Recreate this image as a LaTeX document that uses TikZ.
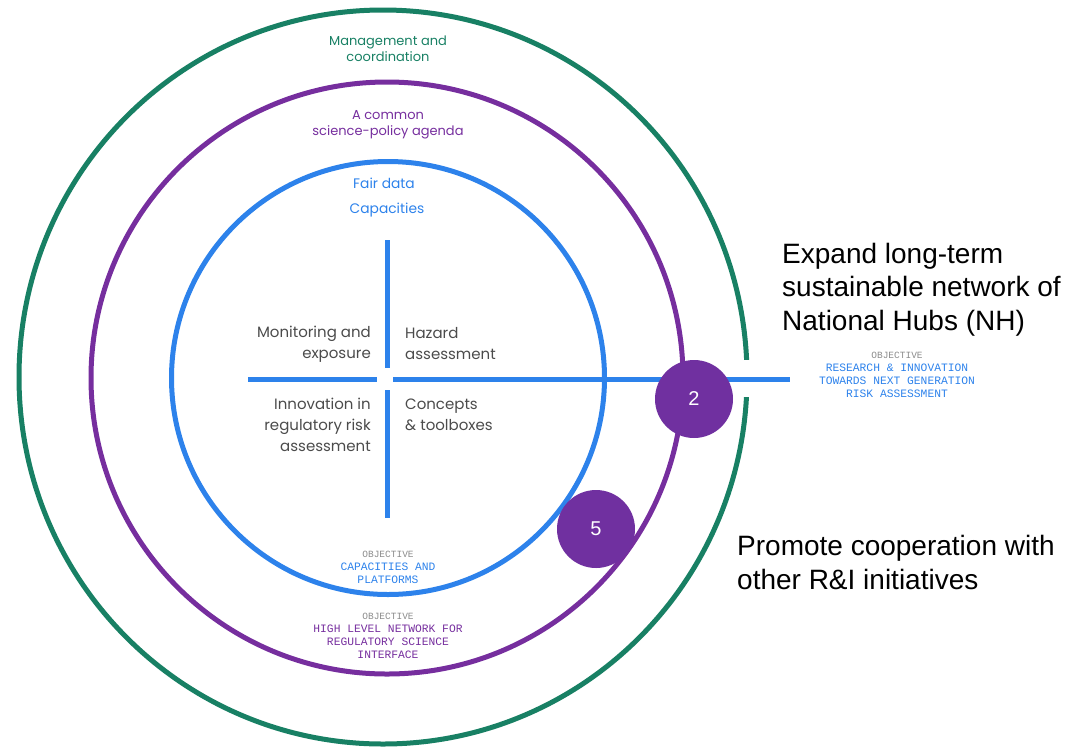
\documentclass[tikz,border=0pt]{standalone}
\usepackage{fontspec}
\setmainfont{Poppins}
\newfontfamily\arialfont{Liberation Sans}
\newfontfamily\codefont{Liberation Mono}
\definecolor{cgreen}{RGB}{24,128,100}
\definecolor{cpurple}{RGB}{118,46,158}
\definecolor{cblue}{RGB}{45,130,235}
\definecolor{cbadge}{RGB}{112,48,160}
\definecolor{cgray}{RGB}{75,75,75}
\definecolor{cobj}{RGB}{140,140,140}
\usetikzlibrary{positioning}
\usetikzlibrary{shapes.geometric}

\begin{document}
\begin{tikzpicture}[x=1pt, y=-1pt,
  ring/.style={circle, line width=5pt, inner sep=0pt},
  badge/.style={circle, fill=cbadge, minimum size=78pt, inner sep=0pt, text=white, font=\arialfont\fontsize{20}{24}\selectfont},
  lab/.style={font=\fontsize{15}{21}\selectfont, inner sep=0pt},
  toplab/.style={font=\fontsize{13}{16}\selectfont, inner sep=0pt, align=center},
  objlab/.style={font=\codefont\fontsize{11.3}{13}\selectfont, align=center, inner sep=0pt},
  aim/.style={font=\arialfont\fontsize{28}{33.5}\selectfont, align=left, inner sep=0pt, anchor=north west},
  bar/.style={cblue, line width=5pt}]
\useasboundingbox (0,0) rectangle (1073,748);
\node (green) [ellipse, line width=5pt, inner sep=0pt, draw=cgreen, minimum width=728pt, minimum height=734pt] at (383,377) {};
\node (purple) [ring, draw=cpurple, minimum size=592pt] at (387,378) {};
\node (blue) [ring, draw=cblue, minimum size=433pt] at (388,378) {};
\coordinate (hl1) at (248,379);
\coordinate (hl2) at (377,379);
\coordinate (hr1) at (393,379);
\coordinate (hr2) at (790,379);
\coordinate (vt1) at (387,240);
\coordinate (vt2) at (387,368);
\coordinate (vb1) at (387,390);
\coordinate (vb2) at (387,518);
\coordinate (gap1) at (736,378);
\coordinate (gap2) at (765,378);
\draw [white, line width=37pt] (gap1) -- (gap2);
\draw [bar] (hl1) -- (hl2);
\draw [bar] (hr1) -- (hr2);
\draw [bar] (vt1) -- (vt2);
\draw [bar] (vb1) -- (vb2);
\node (mgmt) [toplab, text=cgreen] at (388,49) {Management and\\coordination};
\node (agenda) [toplab, text=cpurple] at (388,125) {A common\\science-policy agenda};
\node (fair) [toplab, text=cblue, font=\fontsize{13.8}{16}\selectfont] at (384,183) {Fair data};
\node (capa) [toplab, text=cblue, font=\fontsize{13.8}{16}\selectfont] at (387,210) {Capacities};
\node (monit) [lab, text=cgray, align=right, anchor=east] at (371,344) {Monitoring and\\exposure};
\node (hazard) [lab, text=cgray, align=left, anchor=west] at (405,344) {Hazard\\assessment};
\node (innov) [lab, text=cgray, align=right, anchor=east] at (371,425) {Innovation in\\regulatory risk\\assessment};
\node (concept) [lab, text=cgray, align=left, anchor=west] at (405,415) {Concepts\\\& toolboxes};
\node (obj2) [objlab, text=cblue] at (897,375) {\textcolor{cobj}{\fontsize{9.5}{13}\selectfont OBJECTIVE}\\RESEARCH \& INNOVATION\\TOWARDS NEXT GENERATION\\RISK ASSESSMENT};
\node (objcap) [objlab, text=cblue] at (388,567) {\textcolor{cobj}{\fontsize{9.5}{13}\selectfont OBJECTIVE}\\CAPACITIES AND\\PLATFORMS};
\node (objnet) [objlab, text=cpurple] at (388,636) {\textcolor{cobj}{\fontsize{9.5}{13}\selectfont OBJECTIVE}\\HIGH LEVEL NETWORK FOR\\REGULATORY SCIENCE\\INTERFACE};
\node (2) [badge] at (694,399) {2};
\node (5) [badge] at (596,529) {5};
\node (expand) [aim] at (782,243) {Expand long-term\\sustainable network of\\National Hubs (NH)};
\node (promote) [aim] at (737,535) {Promote cooperation with\\other R\&I initiatives};
\end{tikzpicture}
\end{document}
